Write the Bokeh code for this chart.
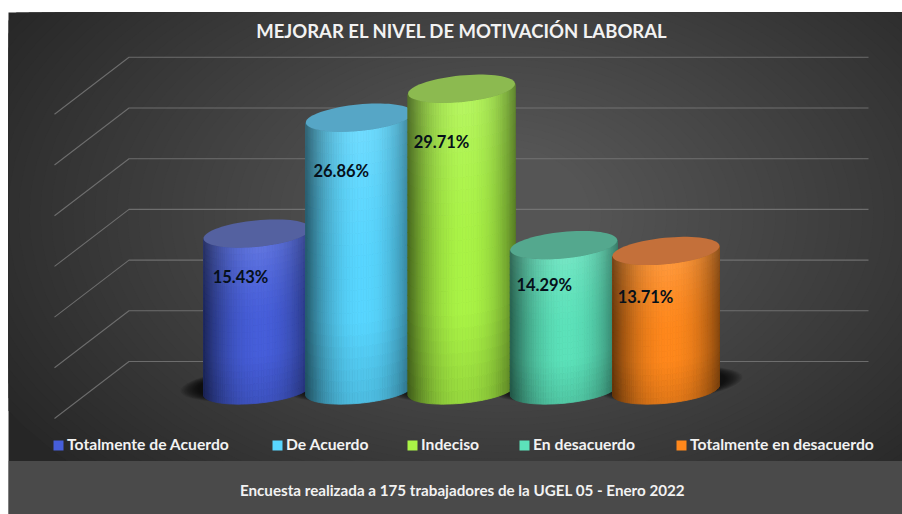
import math
from bokeh.core.properties import value
from bokeh.embed import file_html
from bokeh.models import Range1d
from bokeh.plotting import figure
from bokeh.resources import INLINE

# ---- data ----
categories = ["Totalmente de Acuerdo", "De Acuerdo", "Indeciso", "En desacuerdo", "Totalmente en desacuerdo"]
percentages = [15.43, 26.86, 29.71, 14.29, 13.71]
y_ticks = [0, 5, 10, 15, 20, 25, 30]
title_text = "MEJORAR EL NIVEL DE MOTIVACIÓN LABORAL"
footer_text = "Encuesta realizada a 175 trabajadores de la UGEL 05 - Enero 2022"

# ---- styling ----
side_colors = [(70, 94, 218), (88, 214, 255), (170, 244, 70), (92, 226, 186), (255, 136, 28)]
top_colors = [(84, 97, 160), (86, 166, 198), (140, 186, 80), (84, 168, 142), (196, 112, 58)]
legend_swatch_px = [53, 272, 407, 519, 676]
label_dx_px = [-16.5, -18, -20, -19.5, -20.5]
label_dy_px = [43, 53, 53, 40, 46]

# ---- scales: px position <-> data ----
X0, XS = 256.5, 102.25      # px of category 0, px per category
Y0, YS = 389.5, 10.14       # px of value 0, px per percent unit
def dx(px): return (px - X0) / XS
def dy(py): return (Y0 - py) / YS

W, H = 902, 514
p = figure(width=W, height=H, output_backend="svg", toolbar_location=None,
           x_range=Range1d(dx(8), dx(W)), y_range=Range1d(dy(H), dy(12)),
           min_border_left=8, min_border_right=0, min_border_top=12, min_border_bottom=0)
p.axis.visible = False
p.grid.visible = False
p.outline_line_color = None
p.border_fill_color = "white"
p.background_fill_color = "#262626"

def hexc(c):
    return "#%02x%02x%02x" % tuple(max(0, min(255, int(round(v)))) for v in c)

def ellipse_px(cx, cy, a, b, phi=0.0, n=72, t0=0.0, t1=2 * math.pi):
    xs, ys = [], []
    for k in range(n + 1):
        t = t0 + (t1 - t0) * k / n
        xs.append(cx + a * math.cos(t) * math.cos(phi) + b * math.sin(t) * math.sin(phi))
        ys.append(cy - a * math.cos(t) * math.sin(phi) + b * math.sin(t) * math.cos(phi))
    return xs, ys

# ---- background: radial glow built from concentric ellipses ----
levels = list(range(0x28, 0x56, 1))
for i, g in enumerate(levels):
    f = 1 - i / (len(levels) - 1)
    a = 90 + 490 * f
    b = 70 + 300 * f
    ex, ey = ellipse_px(500, 215, a, b)
    p.patch([dx(v) for v in ex], [dy(v) for v in ey], fill_color=hexc((g, g, g)), line_color=None)

# ---- bottom band ----
p.quad(left=dx(8), right=dx(W), top=dy(460.5), bottom=dy(H), fill_color="#4a4a4a", line_color=None)

# ---- wall / floor lines ----
wall_x = [54, 128.5, 868]
gx, gy = [], []
for t in y_ticks:
    gx.append([dx(v) for v in wall_x])
    gy.append([t - 28.5 / YS, t + 28.5 / YS, t + 28.5 / YS])
p.multi_line(gx, gy, line_color="#7a7a7a", line_width=1.1, line_alpha=0.8)

# ---- cylinders ----
A, B, PHI = 53.7, 13.2, math.radians(5.6)

# soft floor shadow
n_cat = len(percentages)
for r in range(12):
    s = 1 - r / 12
    for i in range(n_cat):
        cx = X0 + XS * i
        shift = 4 if i == n_cat - 1 else -4 if i == 0 else 0
        ex, ey = ellipse_px(cx + shift, Y0 - 6, A + 19 * s, B + 3 * s, PHI)
        p.patch([dx(v) for v in ex], [dy(v) for v in ey], fill_color="#000000", fill_alpha=0.09, line_color=None)

def shade(base, u, v):
    """u in -1..1 across the cylinder, v 0 at base .. 1 at top."""
    edge = 1 - 0.52 * abs(u - 0.03) ** 2.2
    c = [x * edge for x in base]
    glow = 0.15 * max(0, (v - 0.5) / 0.5) ** 1.5 * (1 - 0.6 * abs(u))
    dark = 0.12 * max(0, (0.3 - v) / 0.3)
    return [x + (255 - x) * glow - x * dark for x in c]

N_STRIPS, N_SEG = 60, 24
for i, (val, base, top) in enumerate(zip(percentages, side_colors, top_colors)):
    cx = X0 + XS * i
    xs, ys, cols = [], [], []
    for j in range(N_STRIPS):
        t0 = math.pi * j / N_STRIPS
        t1 = math.pi * (j + 1) / N_STRIPS
        ex, ey = ellipse_px(cx, 0, A, B, PHI, n=1, t0=t0, t1=t1)
        u = math.cos((t0 + t1) / 2)
        for k in range(N_SEG):
            v0, v1 = val * k / N_SEG, val * (k + 1) / N_SEG
            xs.append([dx(ex[0]), dx(ex[1]), dx(ex[1]), dx(ex[0])])
            ys.append([dy(Y0 + ey[0]) + v0, dy(Y0 + ey[1]) + v0,
                       dy(Y0 + ey[1]) + v1, dy(Y0 + ey[0]) + v1])
            cols.append(hexc(shade(base, u, (k + 0.5) / N_SEG)))
    p.patches(xs, ys, fill_color=cols, line_color=cols, line_width=0.8)
    ex, ey = ellipse_px(cx, Y0 - val * YS, A, B, PHI)
    p.patch([dx(v) for v in ex], [dy(v) for v in ey], fill_color=hexc(top), line_color=None)

# ---- data labels ----
p.text([i + d / XS for i, d in enumerate(label_dx_px)],
       [v - d / YS for v, d in zip(percentages, label_dy_px)],
       text=["%.2f%%" % v for v in percentages],
       text_font=value("Lato"), text_font_style="bold", text_font_size="16.5px",
       text_color="#06101a", text_align="center", text_baseline="middle")

# ---- title / footer ----
p.text([dx(461.5)], [dy(30)], text=[title_text], text_font=value("Lato"), text_font_style="bold",
       text_font_size="18.5px", text_color="#f2f2f2", text_align="center", text_baseline="middle")
p.text([dx(462)], [dy(489.5)], text=[footer_text], text_font=value("Lato"), text_font_style="bold",
       text_font_size="15.2px", text_color="#f2f2f2", text_align="center", text_baseline="middle")

# ---- legend ----
p.quad(left=[dx(v) for v in legend_swatch_px], right=[dx(v + 10) for v in legend_swatch_px],
       top=[dy(440)] * 5, bottom=[dy(450)] * 5, fill_color=[hexc(c) for c in side_colors], line_color=None)
p.text([dx(v + 13.5) for v in legend_swatch_px], [dy(443.5)] * 5, text=categories,
       text_font=value("Lato"), text_font_style="bold", text_font_size="15.7px",
       text_color="#f2f2f2", text_align="left", text_baseline="middle")

open("out.html", "w").write(file_html(p, INLINE))
